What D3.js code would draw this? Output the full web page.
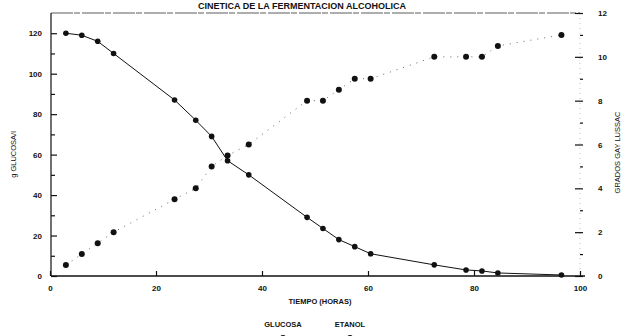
<!DOCTYPE html>
<html>
<head>
<meta charset="utf-8">
<script src="https://cdn.jsdelivr.net/npm/d3@7"></script>
<style>
  body { margin: 0; background: #fff; }
  svg { display: block; font-family: "Liberation Sans", Arial, sans-serif; }
</style>
</head>
<body>
<div id="chart"></div>
<script>
// sampling times (hours)
const tiempo = [3, 6, 9, 12, 23.5, 27.5, 30.5, 33.5, 37.5, 48.5, 51.5, 54.5, 57.5, 60.5, 72.5, 78.5, 81.5, 84.5, 96.5];
// g glucosa / l
const glucosa = [120, 119, 116, 110, 87, 77, 69, 57, 50, 29, 23.5, 18, 14.5, 11, 5.5, 3, 2.5, 1.5, 0.5];
// grados Gay Lussac
const etanol = [0.5, 1.0, 1.5, 2.0, 3.5, 4.0, 5.0, 5.5, 6.0, 8.0, 8.0, 8.5, 9.0, 9.0, 10.0, 10.0, 10.0, 10.5, 11.0];

const xTicks = [0, 20, 40, 60, 80, 100];
const yLeftTicks = [0, 20, 40, 60, 80, 100, 120];
const yRightTicks = [0, 2, 4, 6, 8, 10, 12];

const width = 626, height = 336;
const mLeft = 51, mRight = 580, mTop = 13, mBottom = 276;

const svg = d3.select('#chart').append('svg')
  .attr('width', width)
  .attr('height', height);

const x = d3.scaleLinear().domain([0, 100]).range([mLeft - 1, mRight]);
const yL = d3.scaleLinear().domain([0, 130]).range([mBottom, mTop]);
const yR = d3.scaleLinear().domain([0, 12]).range([mBottom, mTop]);

const ink = '#111';

// title, squeezed into the top strip
svg.append('text')
  .attr('x', 302).attr('y', 9)
  .attr('text-anchor', 'middle')
  .style('font-size', '9px').style('font-weight', 'bold')
  .attr('fill', ink)
  .text('CINETICA DE LA FERMENTACION ALCOHOLICA');

// frame lines
svg.append('line').attr('x1', mLeft).attr('x2', mRight).attr('y1', mTop).attr('y2', mTop)
  .attr('stroke', '#333').attr('stroke-width', 0.8).attr('stroke-dasharray', '22,1,6,2');
svg.append('line').attr('x1', mRight).attr('x2', mRight).attr('y1', mTop).attr('y2', mBottom)
  .attr('stroke', '#999').attr('stroke-width', 0.6).attr('stroke-dasharray', '1,4');

// bottom axis
const xAxis = svg.append('g').attr('transform', `translate(0,${mBottom})`)
  .call(d3.axisBottom(x).tickValues(xTicks).tickSize(-5).tickPadding(9));
xAxis.select('.domain').attr('stroke', ink).attr('stroke-width', 1.3).attr('d', `M${mLeft},0H${mRight + 5}`);

// left axis
const leftAxis = svg.append('g').attr('transform', `translate(${mLeft},0)`)
  .call(d3.axisLeft(yL).tickValues(yLeftTicks).tickSize(-6).tickPadding(9));
leftAxis.select('.domain').attr('stroke', ink).attr('stroke-width', 1.2).attr('d', `M0,${mTop}V${mBottom}`);
svg.append('g').attr('transform', `translate(${mLeft},0)`)
  .call(d3.axisLeft(yL).tickValues(d3.range(10, 130, 20)).tickSize(-4).tickFormat(''))
  .select('.domain').remove();

// right axis
const rightAxis = svg.append('g').attr('transform', `translate(${mRight + 3},0)`)
  .call(d3.axisRight(yR).tickValues(yRightTicks).tickSize(-8).tickPadding(15));
rightAxis.select('.domain').remove();
svg.append('g').attr('transform', `translate(${mRight + 3},0)`)
  .call(d3.axisRight(yR).tickValues(d3.range(1, 12, 2)).tickSize(-3).tickFormat(''))
  .select('.domain').remove();

svg.selectAll('.tick line').attr('stroke', ink).attr('stroke-width', 1.2);
svg.selectAll('.tick text')
  .attr('fill', ink)
  .style('font-size', '8px')
  .style('font-weight', 'bold')
  .style('font-family', '"Liberation Sans", Arial, sans-serif');

// axis titles
svg.append('text')
  .attr('transform', `translate(16,${(mTop + mBottom) / 2 + 10}) rotate(-90)`)
  .attr('text-anchor', 'middle')
  .style('font-size', '7.5px').attr('fill', ink)
  .text('g GLUCOSA/l');

svg.append('text')
  .attr('transform', `translate(620,${(mTop + mBottom) / 2 + 8}) rotate(-90)`)
  .attr('text-anchor', 'middle')
  .style('font-size', '7.5px').attr('fill', ink)
  .text('GRADOS GAY LUSSAC');

svg.append('text')
  .attr('x', 320).attr('y', 304)
  .attr('text-anchor', 'middle')
  .style('font-size', '7.5px').style('font-weight', 'bold').attr('fill', ink)
  .text('TIEMPO (HORAS)');

// series
const glucosaData = tiempo.map((t, i) => ({ t, v: glucosa[i] }));
const etanolData = tiempo.map((t, i) => ({ t, v: etanol[i] }));

svg.append('path')
  .datum(glucosaData)
  .attr('fill', 'none')
  .attr('stroke', ink)
  .attr('stroke-width', 1)
  .attr('d', d3.line().x(d => x(d.t)).y(d => yL(d.v)));

svg.append('path')
  .datum(etanolData)
  .attr('fill', 'none')
  .attr('stroke', '#666')
  .attr('stroke-width', 1)
  .attr('stroke-dasharray', '1,6')
  .attr('d', d3.line().x(d => x(d.t)).y(d => yR(d.v)));

svg.selectAll('.gl')
  .data(glucosaData)
  .enter()
  .append('circle')
  .attr('cx', d => x(d.t))
  .attr('cy', d => yL(d.v))
  .attr('r', 2.8)
  .attr('fill', ink);

svg.selectAll('.et')
  .data(etanolData)
  .enter()
  .append('circle')
  .attr('cx', d => x(d.t))
  .attr('cy', d => yR(d.v))
  .attr('r', 3)
  .attr('fill', ink);

// legend
const legend = [{ name: 'GLUCOSA', x: 283 }, { name: 'ETANOL', x: 350 }];
legend.forEach(l => {
  svg.append('text')
    .attr('x', l.x).attr('y', 327)
    .attr('text-anchor', 'middle')
    .style('font-size', '7.5px').style('font-weight', 'bold').attr('fill', ink)
    .text(l.name);
  svg.append('circle').attr('cx', l.x).attr('cy', 338).attr('r', 3).attr('fill', ink);
});
</script>
</body>
</html>
